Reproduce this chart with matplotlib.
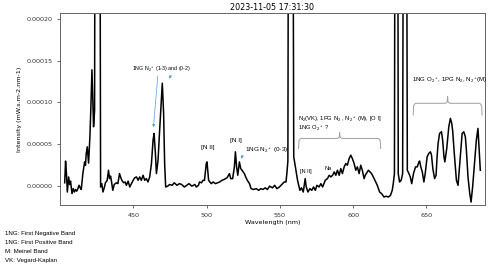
import matplotlib
matplotlib.use('Agg')
import matplotlib.pyplot as plt
import numpy as np
from matplotlib.ticker import FormatStrFormatter

plt.rcParams['mathtext.fontset'] = 'custom'
plt.rcParams['mathtext.rm'] = 'Liberation Sans'
plt.rcParams['mathtext.it'] = 'Liberation Sans:italic'

# spectrum (wavelength nm, intensity in 1e-5 mW.s.m-2.nm-1)
wavelength = [403.2, 403.8, 404.4, 405.0, 405.9, 406.6, 407.2, 408.2, 409.0, 409.8,
              410.6, 411.4, 412.2, 413.0, 413.8, 414.5, 415.6, 416.8, 417.4, 417.9,
              418.6, 419.5, 420.4, 421.0, 421.8, 422.3, 422.9, 423.6, 424.1, 427.0,
              427.7, 428.5, 429.3, 430.2, 431.0, 432.2, 433.1, 433.8, 434.5, 435.2,
              436.0, 437.0, 438.5, 439.5, 440.6, 441.5, 442.5, 443.5, 444.5, 445.3,
              446.5, 447.6, 449.0, 449.9, 451.0, 452.2, 453.3, 454.4, 455.5, 456.7,
              457.8, 458.9, 460.0, 461.2, 462.4, 463.5, 464.2, 465.1, 465.8, 466.9,
              468.0, 469.2, 469.8, 470.7, 471.4, 472.1, 473.5, 474.8, 476.5, 478.0,
              479.8, 481.5, 483.0, 484.8, 486.5, 488.0, 490.0, 492.0, 493.0, 494.5,
              495.2, 496.5, 497.6, 498.6, 499.8, 500.3, 501.0, 501.4, 503.2, 504.5,
              506.0, 507.5, 509.0, 510.5, 512.0, 514.0, 515.6, 516.5, 517.8, 519.0,
              519.7, 520.5, 521.3, 522.4, 523.3, 524.2, 525.0, 525.8, 526.7, 527.8,
              529.3, 530.4, 532.0, 534.0, 535.5, 537.0, 538.5, 540.0, 541.5, 543.0,
              545.0, 546.5, 548.0, 549.7, 551.9, 553.0, 554.2, 554.8, 555.5, 556.1,
              558.6, 559.5, 561.0, 562.1, 563.7, 564.8, 566.0, 567.3, 568.0, 569.2,
              570.5, 571.8, 573.0, 574.2, 575.3, 576.8, 578.0, 579.2, 581.0, 582.5,
              583.7, 584.8, 586.0, 587.1, 588.2, 589.3, 590.5, 591.6, 592.7, 593.9,
              595.0, 596.1, 597.3, 598.4, 599.5, 600.7, 601.8, 602.9, 604.1, 605.2,
              606.3, 607.5, 608.3, 609.0, 610.4, 611.5, 612.6, 613.8, 615.4, 616.5,
              618.1, 619.5, 621.1, 622.5, 624.0, 625.5, 626.7, 627.4, 628.2, 628.8,
              630.3, 630.8, 631.7, 632.8, 633.8, 634.6, 636.2, 637.0, 638.1, 639.0,
              640.0, 641.2, 642.6, 643.8, 644.9, 645.4, 646.2, 647.2, 648.3, 649.2,
              650.5, 651.6, 652.8, 653.5, 654.4, 655.6, 656.6, 657.3, 658.0, 659.0,
              660.3, 661.1, 662.0, 662.6, 663.9, 665.3, 666.4, 667.3, 668.0, 669.0,
              670.5, 671.6, 672.7, 674.4, 675.5, 676.6, 677.3, 678.4, 679.6, 680.5,
              681.6, 683.0, 684.1, 685.2, 686.0, 686.8]
intensity = [0.4, 3.0, 1.5, -0.7, 1.1, 0.2, 0.6, -0.9, -0.3, -0.7,
             -0.4, -0.6, -0.3, 0.1, -0.2, -0.4, 1.5, 2.9, 2.5, 3.9,
             4.7, 2.75, 5.9, 9.0, 13.9, 11.0, 7.1, 9.0, 60, 60,
             -0.1, 0.3, -0.7, -0.2, 0.4, 0.7, 1.9, 0.9, 1.2, 0.5,
             -0.5, 0.2, 0.4, 0.3, 1.5, 1.0, 0.6, 0.4, 0.5, 0.1,
             0.6, -0.1, 0.4, 0.7, 1.0, 1.1, 0.7, 1.1, 0.7, 1.3,
             0.7, 0.9, 0.5, 1.1, 2.7, 5.5, 6.3, 3.9, 1.5, 3.1,
             6.7, 10.3, 12.3, 8.7, 2.7, -0.1, 0.0, 0.2, 0.1, 0.4,
             0.1, 0.3, 0.2, -0.1, 0.1, 0.3, 0.0, 0.2, -0.1, 0.1,
             0.5, 0.4, 0.7, 0.7, 2.7, 2.9, 1.5, 0.7, 0.3, 0.5,
             0.3, 0.4, 0.5, 0.7, 0.8, 1.0, 1.5, 0.9, 0.9, 2.3,
             4.1, 2.3, 1.3, 2.9, 2.1, 1.9, 1.7, 1.5, 1.1, 0.7,
             0.3, -0.3, -0.4, -0.3, -0.5, -0.3, -0.4, -0.2, -0.4, 0.0,
             -0.2, 0.1, -0.3, -0.1, 0.3, 0.5, 0.5, 1.5, 3.0, 60,
             60, 3.5, 1.9, 0.7, -0.5, -0.2, -0.7, 0.9, -0.1, -0.7,
             -0.3, -0.5, -0.1, -0.5, 0.1, -0.1, 0.3, -0.1, 0.7, 0.9,
             1.3, 1.1, 1.3, 1.7, 1.3, 1.9, 1.3, 2.1, 1.5, 2.3,
             2.7, 2.5, 3.3, 3.7, 3.3, 2.7, 1.9, 2.3, 1.5, 2.5,
             1.9, 0.9, 1.3, 1.5, 1.9, 1.7, 1.5, 1.1, 0.5, 0.1,
             -0.7, -0.9, -1.3, -1.2, -1.3, -1.1, -0.5, 0.3, 1.5, 60,
             60, 1.5, 0.5, 0.7, 1.5, 60, 60, 1.9, 1.5, 1.1,
             0.3, 1.5, 2.3, 2.3, 2.9, 3.0, 2.3, 1.7, 0.5, 1.5,
             3.5, 3.9, 4.1, 3.7, 2.1, 0.9, 1.3, 3.5, 5.1, 6.3,
             6.5, 5.5, 3.5, 2.9, 4.5, 7.1, 8.1, 7.5, 6.5, 4.0,
             0.7, 0.1, 2.5, 6.3, 6.5, 5.9, 4.3, 1.1, -0.9, -1.9,
             0.0, 3.1, 5.5, 6.9, 4.5, 1.9]

x_ticks = [450, 500, 550, 600, 650]
y_ticks = [0, 0.00005, 0.0001, 0.00015, 0.0002]

notes = ['1NG: First Negative Band', '1NG: First Positive Band',
         'M: Meinel Band', 'VK: Vegard-Kaplan']

fig = plt.figure(figsize=(5, 2.69), dpi=100)
ax = fig.add_axes([0.12, 0.238, 0.85, 0.714])

ax.plot(wavelength, np.array(intensity) * 1e-5, color='black', lw=1.1)

ax.set_xlim(400, 690)
ax.set_ylim(-0.0000225, 0.000207)
ax.set_xticks(x_ticks)
ax.set_yticks(y_ticks)
ax.yaxis.set_major_formatter(FormatStrFormatter('%.5f'))
ax.tick_params(labelsize=4.6, length=2, width=0.5, colors='#333333')
for s in ax.spines.values():
    s.set_color('#666666')
    s.set_linewidth(0.7)

ax.set_title('2023-11-05 17:31:30', fontsize=5.8, pad=2)
ax.set_xlabel('Wavelength (nm)', fontsize=4.6, labelpad=2)
ax.set_ylabel('Intensity (mW.s.m-2.nm-1)', fontsize=4.6, labelpad=3)

fam = 'Liberation Sans'
acol = '#5B9BD5'
ap = dict(arrowstyle='-|>', color=acol, lw=0.5, mutation_scale=4)

# annotations
ax.annotate('', xy=(463.6, 0.000067), xytext=(466.9, 0.000135), arrowprops=ap)
ax.annotate('', xy=(473.0, 0.000126), xytext=(477.1, 0.000135), arrowprops=ap)
ax.text(469.5, 0.000139, '1NG N$_2$$^+$ (1-3) and (0-2)', fontsize=3.8, family=fam,
        ha='center', va='center')
ax.text(500.9, 0.000046, '[N II]', fontsize=4.6, family=fam, ha='center', va='center')
ax.text(520.2, 0.000055, '[N I]', fontsize=4.6, family=fam, ha='center', va='center')
ax.annotate('', xy=(522.4, 0.000030), xytext=(525.9, 0.000040), arrowprops=ap)
ax.text(525.9, 0.000043, '1NG N$_2$$^+$ (0-3)', fontsize=4.6, family=fam,
        ha='left', va='center')
ax.text(567.8, 0.000017, '[N II]', fontsize=4.0, family=fam, ha='center', va='center')
ax.text(583.2, 0.000021, 'Na', fontsize=4.0, family=fam, ha='center', va='center')
ax.text(562.1, 0.0000795, 'N$_2$(VK), 1PG N$_2$ , N$_2$$^+$ (M), [O I]', fontsize=4.2,
        family=fam, ha='left', va='center')
ax.text(562.1, 0.0000685, '1NG O$_2$$^+$ ?', fontsize=4.2, family=fam,
        ha='left', va='center')
ax.text(665.8, 0.000126, '1NG O$_2$$^+$, 1PG N$_2$, N$_2$$^+$(M)', fontsize=4.4,
        family=fam, ha='center', va='center', clip_on=False)


def brace(x0, x1, ylow, yline, ytip):
    xc = (x0 + x1) / 2
    d = 1.5
    bx = [x0, x0 + d * 0.2, x0 + d, xc - d, xc - d * 0.2, xc, xc + d * 0.2, xc + d,
          x1 - d, x1 - d * 0.2, x1]
    by = [ylow, yline - (yline - ylow) * 0.2, yline, yline, yline + (ytip - yline) * 0.2,
          ytip, yline + (ytip - yline) * 0.2, yline, yline,
          yline - (yline - ylow) * 0.2, ylow]
    ax.plot(bx, by, color='#a0a0a0', lw=0.7, clip_on=False)


brace(562.8, 618.8, 0.000045, 0.000057, 0.000064)
brace(641.0, 688.0, 0.000085, 0.000099, 0.000107)

for i, t in enumerate(notes):
    fig.text(0.01, 1 - (234 + 8.7 * i) / 269, t, fontsize=4.4, family=fam,
             ha='left', va='center')

fig.savefig('out.png', dpi=100)
